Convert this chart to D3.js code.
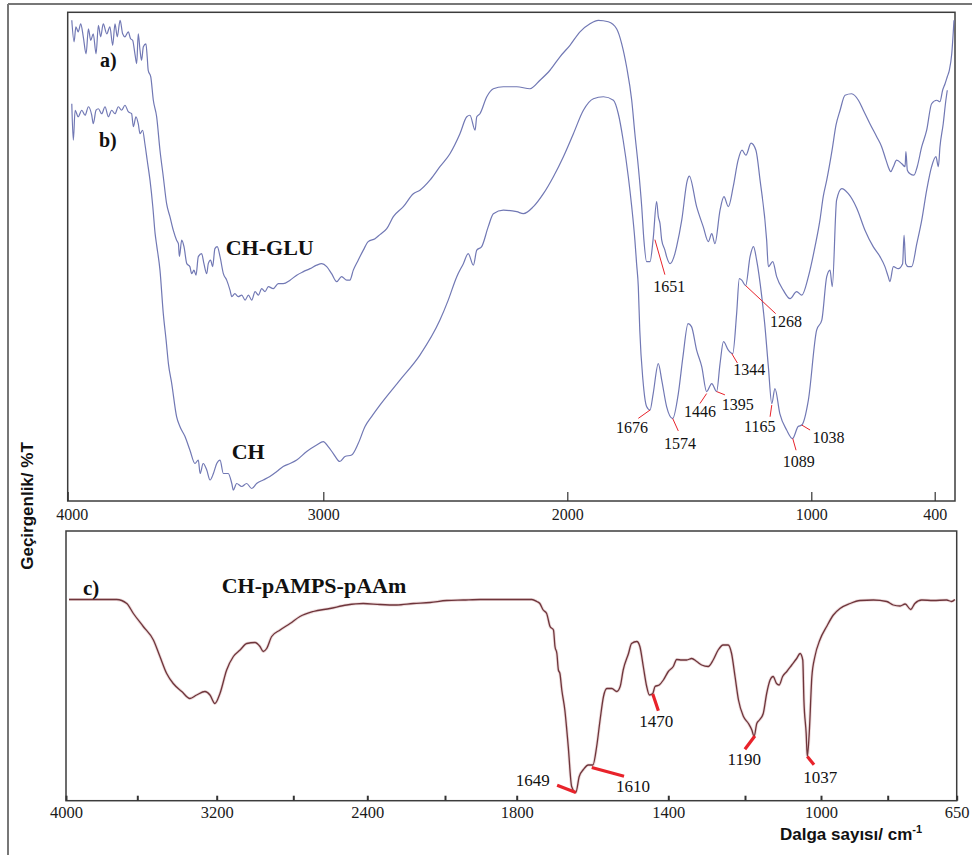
<!DOCTYPE html>
<html>
<head>
<meta charset="utf-8">
<script src="https://cdn.jsdelivr.net/npm/d3@7"></script>
<style>
  body { margin: 0; background: #fff; }
  svg { display: block; }
  .tick text { font-family: "Liberation Serif", "Times New Roman", serif; }
</style>
</head>
<body>
<div id="chart"></div>
<script>

// ---- data: [wavenumber cm-1, transmittance (arb. %T)] ----

// a) CH-GLU
const chGlu = [[3984,96.2],[3975,91.9],[3968,94.9],[3959,93.9],[3949,95.5],[3939,92.9],[3928,89.5],[3919,94.5],[3910,92.2],[3900,93.5],[3889,89.5],[3880,95.2],[3871,92.9],[3861,95.5],[3847,93.5],[3835,94.9],[3824,91.2],[3815,95.5],[3806,92.9],[3795,96.2],[3785,93.5],[3776,92.9],[3763,93.9],[3754,92.5],[3746,92.2],[3737,89.5],[3730,87.5],[3724,93.5],[3717,90.2],[3711,88.2],[3704,90.9],[3694,91.5],[3689,88.9],[3685,86.2],[3675,84.9],[3665,80.2],[3652,76.9],[3639,70.2],[3626,64.9],[3613,59.5],[3600,56.9],[3587,54.2],[3574,52.2],[3567,51.5],[3563,48.9],[3554,52.2],[3545,50.9],[3534,47.5],[3522,46.9],[3515,45.5],[3506,46.2],[3498,45.2],[3489,48.9],[3476,49.5],[3467,47.5],[3456,45.5],[3450,47.5],[3441,48.2],[3433,46.9],[3424,50.5],[3415,50.9],[3404,48.9],[3391,45.5],[3378,44.2],[3365,42.2],[3358,40.9],[3346,41.5],[3333,40.9],[3319,41.2],[3306,40.2],[3293,41.2],[3280,40.2],[3267,41.9],[3254,41.2],[3241,42.5],[3228,41.9],[3215,42.9],[3196,42.5],[3176,43.5],[3157,43.5],[3130,44.2],[3104,45.2],[3078,45.9],[3052,46.5],[3026,47.2],[3006,47.5],[2986,46.9],[2966,45.5],[2945,43.9],[2925,44.9],[2904,44.2],[2891,44.2],[2877,46.2],[2857,48.2],[2836,50.2],[2816,51.9],[2788,52.5],[2768,53.3],[2740,54.5],[2713,56.9],[2672,58.9],[2631,61.5],[2604,62.2],[2563,64.2],[2522,66.9],[2481,69.5],[2440,73.5],[2412,76.9],[2399,77.2],[2378,74.2],[2371,76.9],[2358,77.5],[2330,80.9],[2303,82.5],[2262,82.9],[2207,82.9],[2153,82.5],[2112,84.2],[2071,86.2],[2030,88.9],[1989,91.2],[1948,93.9],[1907,95.5],[1873,96.2],[1832,95.9],[1798,94.5],[1777,91.5],[1757,86.9],[1736,80.2],[1723,73.5],[1709,66.9],[1695,58.9],[1686,52.2],[1675,47.9],[1661,47.9],[1648,52.5],[1634,59.9],[1627,56.9],[1620,55.5],[1613,52.2],[1600,50.2],[1593,48.9],[1579,47.5],[1559,49.5],[1552,50.9],[1531,56.2],[1508,64.2],[1500,65.0],[1470,58.9],[1443,54.9],[1422,51.9],[1408,53.5],[1395,51.5],[1374,58.2],[1358,60.9],[1340,58.9],[1320,62.9],[1300,68.2],[1284,70.2],[1268,69.2],[1247,71.6],[1227,70.2],[1210,64.2],[1183,52.2],[1176,46.9],[1158,47.9],[1142,44.9],[1115,42.2],[1087,40.5],[1060,41.9],[1039,41.2],[1012,44.9],[982,50.9],[958,56.2],[942,60.9],[925,64.2],[899,70.2],[880,75.2],[860,78.2],[836,81.2],[804,81.5],[771,80.2],[747,78.2],[715,75.5],[682,72.9],[658,70.9],[642,68.9],[626,66.9],[614,65.9],[601,66.9],[585,68.2],[560,67.5],[544,66.9],[540,69.9],[533,66.2],[520,65.5],[501,65.2],[485,66.9],[463,70.9],[439,74.2],[415,79.5],[390,80.2],[374,79.9],[361,82.2],[349,83.5],[338,84.9],[328,86.2],[316,89.5],[305,96.2]];

// b) CH
const ch = [[3984,79.5],[3978,72.2],[3971,78.2],[3959,76.9],[3945,78.2],[3932,77.2],[3919,78.9],[3906,77.2],[3900,75.5],[3889,78.2],[3880,78.5],[3867,77.5],[3854,78.9],[3841,76.9],[3828,78.2],[3815,77.5],[3802,78.9],[3789,78.2],[3776,79.2],[3763,77.9],[3750,77.5],[3743,74.9],[3733,76.9],[3724,75.5],[3717,73.5],[3707,74.2],[3698,71.5],[3689,68.2],[3678,64.2],[3667,58.9],[3658,53.5],[3652,51.2],[3639,46.2],[3626,37.5],[3615,32.2],[3606,27.5],[3593,23.5],[3574,16.9],[3561,14.9],[3541,12.9],[3522,10.2],[3502,7.5],[3489,8.2],[3482,5.5],[3470,7.5],[3456,6.2],[3443,4.2],[3430,5.5],[3417,7.5],[3404,8.2],[3391,5.5],[3372,5.5],[3358,3.5],[3352,2.2],[3339,3.5],[3319,2.9],[3300,3.5],[3280,2.5],[3261,3.5],[3235,4.2],[3209,4.9],[3182,5.9],[3157,6.9],[3130,7.5],[3104,8.2],[3065,9.9],[3026,11.2],[3000,11.9],[2980,10.9],[2959,9.5],[2932,7.9],[2911,8.9],[2884,9.2],[2857,11.5],[2829,14.9],[2802,16.9],[2768,19.2],[2686,24.2],[2604,29.2],[2522,36.2],[2488,40.2],[2453,44.9],[2426,47.5],[2406,49.5],[2385,47.2],[2371,50.2],[2351,50.9],[2324,54.9],[2303,57.5],[2262,58.2],[2207,57.9],[2180,57.5],[2139,58.9],[2098,61.5],[2057,64.9],[2016,68.9],[1975,73.5],[1934,78.2],[1893,80.5],[1852,80.9],[1811,80.2],[1791,77.5],[1771,72.2],[1750,64.9],[1736,58.9],[1723,52.2],[1716,47.5],[1709,42.9],[1703,34.2],[1690,24.2],[1675,18.9],[1661,18.2],[1648,21.5],[1627,27.5],[1613,24.2],[1593,18.9],[1568,16.5],[1545,21.5],[1526,28.9],[1505,35.5],[1491,34.9],[1470,30.2],[1449,26.9],[1429,21.9],[1408,23.5],[1388,21.9],[1374,27.5],[1360,31.9],[1340,30.2],[1322,29.5],[1306,37.5],[1295,44.5],[1285,44.2],[1269,43.1],[1251,48.9],[1237,50.9],[1224,48.2],[1203,40.9],[1191,35.5],[1176,26.9],[1162,19.5],[1149,22.5],[1129,17.5],[1101,14.2],[1077,12.5],[1054,14.9],[1039,15.2],[1012,20.2],[974,34.2],[949,36.2],[925,44.9],[909,46.2],[898,42.9],[877,60.2],[852,62.5],[820,61.5],[779,58.6],[739,54.2],[699,50.9],[666,48.9],[642,46.9],[626,44.9],[618,43.9],[601,46.9],[577,46.5],[556,47.5],[549,53.2],[541,47.5],[528,46.9],[512,46.9],[487,51.5],[463,56.2],[439,62.2],[415,66.9],[394,68.9],[382,66.9],[374,70.9],[358,75.5],[345,80.2],[338,82.2]];

// c) CH-pAMPS-pAAm
const chAmps = [[3983,40.1],[3716,40.1],[3659,39.3],[3622,37.3],[3570,34.7],[3519,32.0],[3486,28.7],[3452,25.3],[3419,23.3],[3376,21.7],[3335,20.3],[3301,21.0],[3259,21.7],[3234,21.0],[3209,19.3],[3183,21.3],[3148,26.0],[3113,28.7],[3078,30.0],[3043,31.3],[3000,31.5],[2974,30.7],[2957,29.7],[2939,30.3],[2913,32.7],[2869,34.0],[2817,35.3],[2764,36.7],[2692,37.7],[2602,38.3],[2511,39.0],[2422,39.3],[2335,39.1],[2249,39.0],[2163,39.3],[2077,39.5],[1995,39.9],[1949,40.0],[1902,40.1],[1847,40.1],[1760,40.1],[1747,39.7],[1739,39.3],[1730,38.0],[1721,37.3],[1712,34.7],[1703,34.0],[1699,30.7],[1694,29.3],[1690,26.0],[1686,25.3],[1681,22.0],[1673,18.0],[1664,10.7],[1655,2.7],[1644,1.5],[1635,4.7],[1624,6.1],[1611,7.0],[1599,7.0],[1589,10.7],[1580,16.0],[1571,20.7],[1562,22.3],[1549,22.3],[1536,21.7],[1527,22.7],[1519,26.0],[1505,29.3],[1497,31.3],[1483,31.7],[1475,30.7],[1466,26.7],[1457,22.7],[1450,21.0],[1441,21.3],[1435,22.7],[1424,23.0],[1413,24.0],[1400,25.7],[1387,26.7],[1378,28.1],[1365,28.0],[1352,28.0],[1339,28.3],[1326,27.7],[1313,27.0],[1296,26.7],[1283,28.0],[1270,30.0],[1257,31.0],[1244,31.0],[1235,29.3],[1226,24.7],[1217,20.0],[1204,16.7],[1191,15.3],[1182,14.0],[1176,12.7],[1169,15.3],[1162,16.0],[1152,17.3],[1143,21.3],[1134,24.0],[1126,24.7],[1117,23.3],[1110,23.0],[1101,24.7],[1090,25.7],[1077,27.0],[1064,28.3],[1055,29.3],[1048,28.0],[1045,20.0],[1039,13.3],[1036,8.7],[1031,13.3],[1024,24.7],[1016,28.7],[1003,32.0],[983,34.7],[963,37.0],[943,38.3],[913,39.3],[883,39.9],[843,40.0],[803,39.7],[788,39.0],[773,38.8],[762,39.2],[750,38.1],[741,39.3],[726,40.0],[701,39.9],[672,40.0],[661,39.7],[654,40.1]];

// marked peaks: [label, wavenumber, %T]
const topPeaks = [["1651",1641,52.3],["1268",1269,43.1],["1344",1326,29.5],["1446",1429,21.5],["1395",1388,21.9],["1676",1661,18.2],["1574",1568,16.5],["1165",1162,19.2],["1089",1076,12.5],["1038",1039,15.2]];
const bottomPeaks = [["1649",1644,1.5],["1610",1602,6.5],["1470",1441,21.2],["1190",1174,12.8],["1037",1036,8.7]];

// tick labels
const topTicks = [4000, 3000, 2000, 1000, 400];
const bottomTicks = [4000, 3600, 3200, 2800, 2400, 2000, 1800, 1400, 1200, 1000, 800, 650];
const bottomLabelled = [4000, 3200, 2400, 1800, 1400, 1000, 650];


const width = 972, height = 855;
const serif = "Liberation Serif, Times New Roman, serif";
const sans = "Liberation Sans, Arial, sans-serif";

const svg = d3.select("#chart")
    .append("svg")
    .attr("width", width)
    .attr("height", height)
    .style("background", "#fff");

// outer scan border
svg.append("line").attr("x1", 8).attr("x2", width).attr("y1", 4).attr("y2", 4)
    .attr("stroke", "#777").attr("stroke-width", 2);
svg.append("line").attr("x1", 8).attr("x2", 8).attr("y1", 4).attr("y2", height)
    .attr("stroke", "#777").attr("stroke-width", 2);

// panel boxes
const boxA = {left: 67.7, right: 955, top: 12.3, bottom: 501};
const boxC = {left: 66, right: 956.7, top: 531, bottom: 800.7};

// scanned figure axes are not quite linear, so piecewise scales
let xTop = d3.scaleLinear()
    .domain([4000, 3000, 2000, 1000, 400, 300])
    .range([boxA.left, 323.3, 567.3, 811.3, 934.7, boxA.right]);

let yTop = d3.scaleLinear()
    .domain([0, 97.8])
    .range([boxA.bottom, boxA.top]);

let xBot = d3.scaleLinear()
    .domain([4000, 3600, 3200, 2800, 2400, 2000, 1800, 1400, 1200, 1000, 800, 650])
    .range([boxC.left, 137.3, 216.7, 293.3, 367.3, 445, 516.7, 668.3, 745, 821, 887.7, boxC.right]);

let yBot = d3.scaleLinear()
    .domain([0, 54])
    .range([800, 530]);

// frames
[boxA, boxC].forEach(b => {
    svg.append("rect")
        .attr("x", b.left).attr("y", b.top)
        .attr("width", b.right - b.left).attr("height", b.bottom - b.top)
        .attr("fill", "none").attr("stroke", "#3c3c3c").attr("stroke-width", 1.5);
});

// top axis
const axTop = svg.append("g")
    .attr("transform", `translate(0, ${boxA.bottom})`)
    .call(d3.axisBottom(xTop).tickValues(topTicks).tickFormat(d3.format("d"))
        .tickSizeInner(-9).tickSizeOuter(0).tickPadding(7.6))
    .attr("font-family", serif)
    .attr("font-size", 16);
axTop.select(".domain").remove();
axTop.selectAll("line").attr("stroke", "#333").attr("stroke-width", 1.2);
axTop.selectAll("text")
    .attr("fill", "#1a1a1a")
    .attr("dx", d => d == 4000 ? 4 : 0);

// bottom axis
const axBot = svg.append("g")
    .attr("transform", `translate(0, ${boxC.bottom})`)
    .call(d3.axisBottom(xBot).tickValues(bottomTicks)
        .tickFormat(d => bottomLabelled.includes(d) ? d : "")
        .tickSizeInner(-5).tickSizeOuter(0).tickPadding(6))
    .attr("font-family", serif)
    .attr("font-size", 16.5);
axBot.select(".domain").remove();
axBot.selectAll("line").attr("stroke", "#333").attr("stroke-width", 2);
axBot.selectAll("text").attr("fill", "#1a1a1a");

// spectra
const lineTop = d3.line().x(d => xTop(d[0])).y(d => yTop(d[1])).curve(d3.curveMonotoneX);
const lineBot = d3.line().x(d => xBot(d[0])).y(d => yBot(d[1])).curve(d3.curveMonotoneX);

[chGlu, ch].forEach(s => {
    svg.append("path")
        .datum(s)
        .attr("d", lineTop)
        .attr("fill", "none")
        .attr("stroke", "#7178b4")
        .attr("stroke-width", 1.2);
});

svg.append("path")
    .datum(chAmps)
    .attr("d", lineBot)
    .attr("fill", "none")
    .attr("stroke", "#d9b3b6")
    .attr("stroke-width", 3)
    .attr("opacity", 0.5);
svg.append("path")
    .datum(chAmps)
    .attr("d", lineBot)
    .attr("fill", "none")
    .attr("stroke", "#6e353b")
    .attr("stroke-width", 1.3);

// peak annotations (leader end + text offsets in px from the peak point)
const topOffsets = {
    "1651": [10, 35, -1.7, 52.4],
    "1268": [30, 28, 24.3, 41.4],
    "1344": [5.6, 9.4, 1.6, 21.7],
    "1446": [-6.7, 10, -22.7, 23.4],
    "1395": [8.3, 3.3, 5, 18.3],
    "1676": [-11.7, 8.3, -34, 23.3],
    "1574": [5.6, 12.4, -8.7, 30],
    "1165": [-1.7, 11.7, -27.7, 26.7],
    "1089": [3.3, 11.7, -10, 28.4],
    "1038": [8.3, 5, 10.6, 18.3]
};
const bottomOffsets = {
    "1649": [-18.7, -7.3, -60, -6.5],
    "1610": [32.3, 8.7, 24.3, 24.4],
    "1470": [5.6, 16.7, -13.4, 32.7],
    "1190": [-10, 13.3, -27.3, 29],
    "1037": [6.7, 8.3, -4, 26.2]
};

function annotate(peaks, offsets, x, y, lineWidth, fontSize) {
    const g = svg.append("g");
    peaks.forEach(p => {
        const o = offsets[p[0]];
        const px = x(p[1]), py = y(p[2]);
        g.append("line")
            .attr("x1", px).attr("y1", py)
            .attr("x2", px + o[0]).attr("y2", py + o[1])
            .attr("stroke", "#e8232b")
            .attr("stroke-width", lineWidth);
        g.append("text")
            .attr("x", px + o[2]).attr("y", py + o[3])
            .text(p[0])
            .attr("font-family", serif)
            .attr("font-size", fontSize)
            .attr("fill", "#111");
    });
}
annotate(topPeaks, topOffsets, xTop, yTop, 1, 16);
annotate(bottomPeaks, bottomOffsets, xBot, yBot, 3.2, 17);

// curve names
const names = [
    {t: "a)", x: 100, y: 66.7, s: 20},
    {t: "b)", x: 99, y: 146.7, s: 20},
    {t: "CH-GLU", x: 225.7, y: 255, s: 22},
    {t: "CH", x: 231.7, y: 459.3, s: 22},
    {t: "c)", x: 83, y: 595, s: 21},
    {t: "CH-pAMPS-pAAm", x: 221.7, y: 593, s: 22}
];
svg.selectAll(".name")
    .data(names)
    .enter()
    .append("text")
    .attr("class", "name")
    .attr("x", d => d.x).attr("y", d => d.y)
    .text(d => d.t)
    .attr("font-family", serif)
    .attr("font-weight", "bold")
    .attr("font-size", d => d.s)
    .attr("fill", "#111");

// axis titles
svg.append("text")
    .attr("transform", "translate(33, 506) rotate(-90)")
    .attr("text-anchor", "middle")
    .text("Geçirgenlik/ %T")
    .attr("font-family", sans).attr("font-weight", "bold").attr("font-size", 17)
    .attr("fill", "#111");

const xt = svg.append("text")
    .attr("x", 780).attr("y", 840)
    .attr("font-family", sans).attr("font-weight", "bold").attr("font-size", 17)
    .attr("fill", "#111");
xt.append("tspan").text("Dalga sayısı/ cm");
xt.append("tspan").text("-1").attr("dy", -7).attr("font-size", 11);

</script>
</body>
</html>
